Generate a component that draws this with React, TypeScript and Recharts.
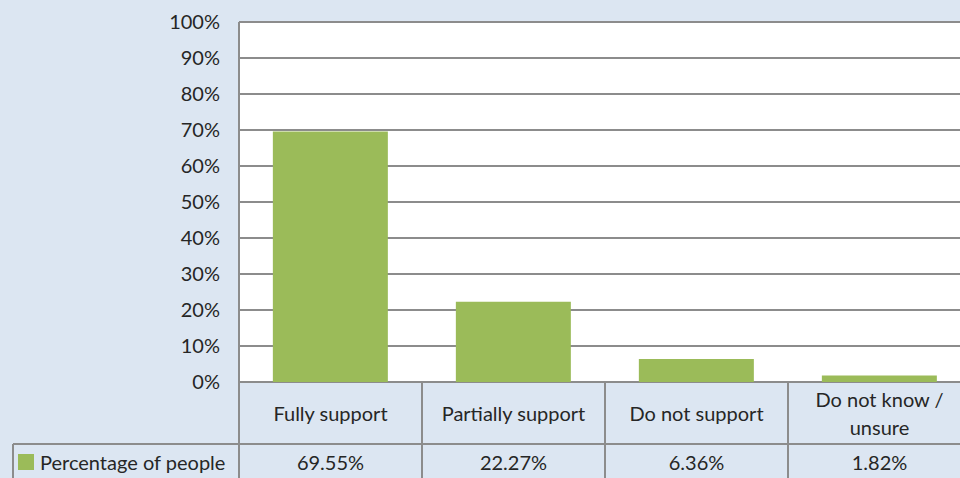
import React from "react";
import { BarChart, Bar, XAxis, YAxis, CartesianGrid } from "recharts";

// Survey responses
const categories = ["Fully support", "Partially support", "Do not support", "Do not know /\nunsure"];
const percentages = [0.6955, 0.2227, 0.0636, 0.0182];
const valueLabels = ["69.55%", "22.27%", "6.36%", "1.82%"];
const yTicks = [0, 0.1, 0.2, 0.3, 0.4, 0.5, 0.6, 0.7, 0.8, 0.9, 1];
const seriesName = "Percentage of people";

const data = categories.map((c, i) => ({ category: c, value: percentages[i], label: valueLabels[i] }));

const CHART_W = 971;
const CHART_H = 500;
const TOP = 22;
const AXIS_W = 239;
const PLOT_BOTTOM = 382;
const ROW_SPLIT = 444;
const TABLE_LEFT = 13;
const BAR_COLOR = "#9bbb59";
const LINE = "#8c8c8c";
const TEXT = "#262626";
const FONT = "Lato, 'Open Sans', sans-serif";
const FS = 20;

const cellW = (CHART_W - AXIS_W) / categories.length;

const TableTick = (props: any) => {
  const { x, payload, index } = props;
  const lines = String(payload.value).split("\n");
  const left = x - cellW / 2;
  const right = x + cellW / 2;
  const labelCenter = (PLOT_BOTTOM + ROW_SPLIT) / 2;
  const lineH = 28;
  return (
    <g>
      {index === 0 && (
        <g>
          <line x1={left} y1={PLOT_BOTTOM} x2={left} y2={CHART_H} stroke={LINE} strokeWidth={2} />
          <line x1={TABLE_LEFT} y1={ROW_SPLIT} x2={CHART_W} y2={ROW_SPLIT} stroke={LINE} strokeWidth={2} />
          <line x1={TABLE_LEFT} y1={ROW_SPLIT} x2={TABLE_LEFT} y2={CHART_H} stroke={LINE} strokeWidth={2} />
          <rect x={18} y={454} width={16} height={16} fill={BAR_COLOR} />
          <text x={40} y={462} dominantBaseline="central" fontSize={FS} fill={TEXT} fontFamily={FONT}>
            {seriesName}
          </text>
        </g>
      )}
      <line x1={right} y1={PLOT_BOTTOM} x2={right} y2={CHART_H} stroke={LINE} strokeWidth={2} />
      {lines.map((ln, k) => (
        <text
          key={k}
          x={x}
          y={labelCenter + (k - (lines.length - 1) / 2) * lineH}
          textAnchor="middle"
          dominantBaseline="central"
          fontSize={FS}
          fill={TEXT}
          fontFamily={FONT}
        >
          {ln}
        </text>
      ))}
      <text x={x} y={462} textAnchor="middle" dominantBaseline="central" fontSize={FS} fill={TEXT} fontFamily={FONT}>
        {data[index].label}
      </text>
    </g>
  );
};

export default function App() {
  return (
    <div
      style={{
        position: "absolute",
        left: 0,
        top: 0,
        width: 960,
        height: 478,
        overflow: "hidden",
        background: "#dce6f2",
        fontFamily: FONT,
      }}
    >
      <BarChart
        width={CHART_W}
        height={CHART_H}
        data={data}
        margin={{ top: TOP, right: 0, bottom: 0, left: 0 }}
        barCategoryGap="18.5%"
      >
        <CartesianGrid vertical={false} fill="#ffffff" stroke={LINE} strokeWidth={2} strokeOpacity={1} />
        <YAxis
          width={AXIS_W}
          domain={[0, 1]}
          ticks={yTicks}
          interval={0}
          tickFormatter={(v: number) => `${Math.round(v * 100)}%`}
          tickLine={false}
          tickSize={0}
          tickMargin={19}
          axisLine={{ stroke: LINE, strokeWidth: 2 }}
          tick={{ fontSize: FS, fill: TEXT, fontFamily: FONT }}
        />
        <XAxis
          dataKey="category"
          height={CHART_H - PLOT_BOTTOM}
          axisLine={false}
          tickLine={false}
          interval={0}
          tick={<TableTick />}
        />
        <Bar dataKey="value" fill={BAR_COLOR} isAnimationActive={false} />
      </BarChart>
    </div>
  );
}
